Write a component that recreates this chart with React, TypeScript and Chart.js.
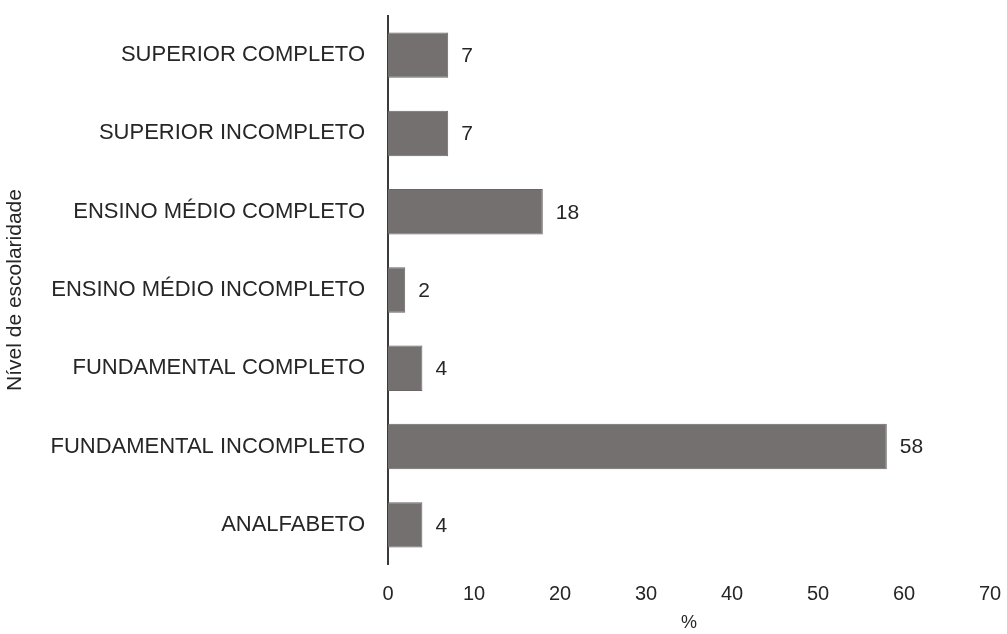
import React, { useEffect, useRef } from "react";
import { Chart, registerables } from "chart.js";

Chart.register(...registerables);

const categories = [
  "SUPERIOR COMPLETO",
  "SUPERIOR INCOMPLETO",
  "ENSINO MÉDIO COMPLETO",
  "ENSINO MÉDIO INCOMPLETO",
  "FUNDAMENTAL COMPLETO",
  "FUNDAMENTAL INCOMPLETO",
  "ANALFABETO",
];
const percentages = [7, 7, 18, 2, 4, 58, 4];
const xTicks = [0, 10, 20, 30, 40, 50, 60, 70];

const FONT = "'Liberation Sans', Arial, sans-serif";
const TEXT = "#262626";

// Writes each bar's value just past its end.
const valueLabels = {
  id: "valueLabels",
  afterDatasetsDraw(chart: any) {
    const ctx = chart.ctx;
    const meta = chart.getDatasetMeta(0);
    ctx.save();
    ctx.font = `21px ${FONT}`;
    ctx.fillStyle = TEXT;
    ctx.textAlign = "left";
    ctx.textBaseline = "middle";
    meta.data.forEach((bar: any, i: number) => {
      ctx.fillText(String(percentages[i]), bar.x + 13, bar.y + 1);
    });
    ctx.restore();
  },
};

// Keeps the plot area exactly where the layout padding puts it.
const noScalePadding = (scale: any) => {
  scale.paddingTop = 0;
  scale.paddingBottom = 0;
  scale.paddingLeft = 0;
  scale.paddingRight = 0;
};

export default function App() {
  const canvasRef = useRef<HTMLCanvasElement>(null);

  useEffect(() => {
    const chart = new Chart(canvasRef.current!, {
      type: "bar",
      data: {
        labels: categories,
        datasets: [
          {
            data: percentages,
            backgroundColor: "#747070",
            borderColor: "#6a6666",
            borderWidth: 1,
            barPercentage: 0.58,
            categoryPercentage: 1,
          },
        ],
      },
      options: {
        indexAxis: "y",
        animation: false,
        responsive: false,
        layout: { padding: { top: 16, right: 17, left: 0, bottom: 0 } },
        plugins: { legend: { display: false }, tooltip: { enabled: false } },
        scales: {
          x: {
            min: 0,
            max: 70,
            afterBuildTicks: (scale: any) => {
              scale.ticks = xTicks.map((v) => ({ value: v }));
            },
            afterFit: (scale: any) => {
              scale.height = 70;
              noScalePadding(scale);
            },
            grid: { display: false, drawTicks: false },
            border: { display: false },
            ticks: {
              color: TEXT,
              font: { family: FONT, size: 20 },
              padding: 18,
              maxRotation: 0,
            },
            title: {
              display: true,
              text: "%",
              color: TEXT,
              font: { family: FONT, size: 18 },
              padding: { top: 0, bottom: 0 },
            },
          },
          y: {
            afterFit: (scale: any) => {
              scale.width = 388;
              noScalePadding(scale);
            },
            grid: { display: false, drawTicks: false },
            border: { display: true, color: "#3a3a3a", width: 2 },
            ticks: {
              color: TEXT,
              font: { family: FONT, size: 22 },
              padding: 23,
            },
            title: {
              display: true,
              text: "Nível de escolaridade",
              color: TEXT,
              font: { family: FONT, size: 21 },
              padding: { top: 3, bottom: 0 },
            },
          },
        },
      },
      plugins: [valueLabels],
    });
    return () => chart.destroy();
  }, []);

  return (
    <div style={{ position: "fixed", left: 0, top: 0, width: 1007, height: 634, background: "#fff" }}>
      <canvas ref={canvasRef} width={1007} height={634} style={{ display: "block" }} />
    </div>
  );
}
